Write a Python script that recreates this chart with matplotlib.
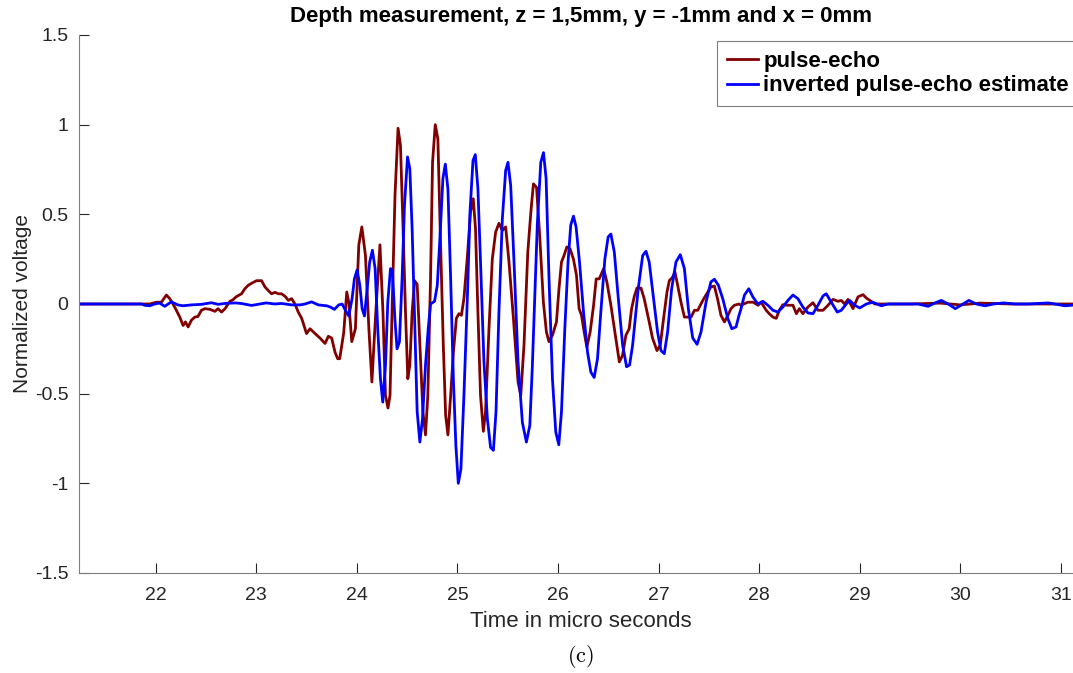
import matplotlib
matplotlib.use("Agg")
import matplotlib.pyplot as plt

title = "Depth measurement, z = 1,5mm, y = -1mm and x = 0mm"
xlabel = "Time in micro seconds"
ylabel = "Normalized voltage"
caption = r"$\mathrm{(c)}$"
legend_labels = ["pulse-echo", "inverted pulse-echo estimate"]
xticks = [22, 23, 24, 25, 26, 27, 28, 29, 30, 31]
yticks = [-1.5, -1, -0.5, 0, 0.5, 1, 1.5]
ytick_labels = ["-1.5", "-1", "-0.5", "0", "0.5", "1", "1.5"]

# pulse-echo (measured)
red_t = [21.24, 21.60, 21.89, 21.94, 22.007, 22.057, 22.107, 22.14, 22.173, 22.206,
         22.24, 22.273, 22.296, 22.323, 22.356, 22.39, 22.42, 22.455, 22.49, 22.54,
         22.59, 22.62, 22.655, 22.69, 22.738, 22.77, 22.80, 22.854, 22.887, 22.92,
         22.953, 23.003, 23.053, 23.087, 23.12, 23.152, 23.186, 23.22, 23.252, 23.286,
         23.32, 23.352, 23.385, 23.418, 23.452, 23.50, 23.535, 23.585, 23.634, 23.684,
         23.717, 23.75, 23.784, 23.81, 23.83, 23.87, 23.90, 23.92, 23.95, 23.986,
         24.02, 24.05, 24.086, 24.12, 24.15, 24.185, 24.23, 24.26, 24.285, 24.31,
         24.33, 24.35, 24.38, 24.41, 24.434, 24.46, 24.484, 24.507, 24.527, 24.55,
         24.574, 24.60, 24.627, 24.657, 24.683, 24.706, 24.733, 24.753, 24.78, 24.806,
         24.833, 24.86, 24.883, 24.906, 24.933, 24.96, 24.99, 25.015, 25.04, 25.065,
         25.10, 25.13, 25.158, 25.18, 25.204, 25.23, 25.258, 25.28, 25.314, 25.347,
         25.38, 25.413, 25.447, 25.48, 25.513, 25.557, 25.603, 25.63, 25.662, 25.70,
         25.73, 25.756, 25.787, 25.82, 25.855, 25.885, 25.91, 25.945, 25.985, 26.01,
         26.035, 26.06, 26.088, 26.12, 26.154, 26.184, 26.21, 26.234, 26.26, 26.287,
         26.32, 26.354, 26.38, 26.41, 26.454, 26.486, 26.526, 26.566, 26.61, 26.642,
         26.675, 26.708, 26.732, 26.758, 26.785, 26.825, 26.857, 26.907, 26.94, 26.984,
         27.017, 27.05, 27.084, 27.107, 27.14, 27.163, 27.19, 27.223, 27.257, 27.323,
         27.357, 27.39, 27.415, 27.45, 27.49, 27.52, 27.555, 27.59, 27.62, 27.655,
         27.69, 27.72, 27.754, 27.80, 27.82, 27.887, 27.94, 27.99, 28.02, 28.07,
         28.10, 28.137, 28.17, 28.20, 28.236, 28.286, 28.336, 28.37, 28.40, 28.435,
         28.485, 28.535, 28.585, 28.635, 28.685, 28.735, 28.784, 28.817, 28.85, 28.884,
         28.933, 28.983, 29.033, 29.066, 29.10, 29.15, 29.23, 29.5, 29.8, 30.0,
         30.2, 30.5, 30.9, 31.25]
red_v = [0, 0, 0, 0.0, 0.01, 0.01, 0.05, 0.03, 0.0, -0.035,
         -0.073, -0.12, -0.10, -0.128, -0.09, -0.073, -0.07, -0.035, -0.026, -0.03,
         -0.041, -0.026, -0.045, -0.026, 0.015, 0.024, 0.04, 0.057, 0.085, 0.104,
         0.115, 0.13, 0.13, 0.095, 0.075, 0.057, 0.065, 0.057, 0.057, 0.043,
         0.02, 0.03, 0.0, -0.045, -0.08, -0.165, -0.138, -0.165, -0.19, -0.22,
         -0.18, -0.19, -0.27, -0.305, -0.305, -0.16, 0.067, 0.01, -0.21, -0.138,
         0.33, 0.43, 0.27, -0.138, -0.435, -0.08, 0.33, -0.045, -0.51, -0.58,
         -0.51, -0.045, 0.61, 0.98, 0.885, 0.42, -0.045, -0.417, -0.34, -0.045,
         0.13, 0.11, -0.23, -0.60, -0.73, -0.51, 0.14, 0.79, 1.0, 0.92,
         0.33, -0.23, -0.62, -0.73, -0.51, -0.27, -0.08, -0.054, -0.063, 0.03,
         0.27, 0.51, 0.587, 0.42, -0.045, -0.51, -0.71, -0.60, -0.138, 0.25,
         0.40, 0.45, 0.41, 0.43, 0.234, -0.08, -0.435, -0.51, -0.23, 0.29,
         0.51, 0.67, 0.65, 0.364, 0.01, -0.156, -0.21, -0.175, -0.10, 0.085,
         0.234, 0.27, 0.318, 0.308, 0.25, 0.16, -0.026, -0.063, -0.156, -0.24,
         -0.156, -0.007, 0.14, 0.14, 0.197, 0.123, -0.007, -0.156, -0.323, -0.286,
         -0.175, -0.138, -0.026, 0.04, 0.089, 0.089, 0.03, -0.10, -0.19, -0.26,
         -0.23, -0.08, 0.067, 0.13, 0.15, 0.178, 0.104, 0.01, -0.073, -0.073,
         -0.035, -0.035, -0.007, 0.03, 0.067, 0.095, 0.10, 0.02, -0.063, -0.10,
         -0.063, -0.026, -0.007, 0.0, -0.007, 0.01, 0.01, -0.007, 0.01, -0.035,
         -0.054, -0.073, -0.08, -0.035, -0.004, -0.007, -0.007, -0.054, -0.026, -0.054,
         -0.017, 0.007, -0.035, -0.035, -0.007, 0.026, 0.015, 0.02, 0.0, 0.026,
         -0.026, 0.04, 0.052, 0.033, 0.02, 0.0, 0.0, 0.0, 0.005, -0.005,
         0.005, 0.0, 0.0, 0.0]

# inverted pulse-echo estimate
blue_t = [21.24, 21.86, 21.89, 21.94, 21.99, 22.04, 22.09, 22.156, 22.22, 22.27,
          22.356, 22.455, 22.555, 22.62, 22.69, 22.79, 22.85, 22.953, 23.036, 23.10,
          23.186, 23.25, 23.352, 23.435, 23.485, 23.55, 23.617, 23.70, 23.737, 23.777,
          23.82, 23.854, 23.886, 23.92, 23.953, 23.976, 24.003, 24.03, 24.053, 24.076,
          24.10, 24.128, 24.155, 24.182, 24.208, 24.235, 24.258, 24.285, 24.308, 24.335,
          24.355, 24.378, 24.40, 24.424, 24.45, 24.474, 24.504, 24.527, 24.55, 24.577,
          24.60, 24.627, 24.653, 24.683, 24.71, 24.733, 24.773, 24.80, 24.826, 24.856,
          24.88, 24.906, 24.933, 24.96, 24.985, 25.009, 25.035, 25.065, 25.10, 25.125,
          25.155, 25.178, 25.204, 25.23, 25.264, 25.298, 25.33, 25.358, 25.384, 25.413,
          25.447, 25.48, 25.503, 25.53, 25.563, 25.603, 25.646, 25.686, 25.72, 25.745,
          25.77, 25.795, 25.829, 25.856, 25.882, 25.911, 25.945, 25.978, 26.008, 26.035,
          26.068, 26.10, 26.127, 26.154, 26.18, 26.214, 26.254, 26.294, 26.327, 26.36,
          26.393, 26.426, 26.466, 26.499, 26.526, 26.56, 26.60, 26.643, 26.682, 26.712,
          26.742, 26.77, 26.798, 26.842, 26.875, 26.907, 26.95, 26.99, 27.024, 27.057,
          27.09, 27.13, 27.173, 27.216, 27.257, 27.296, 27.34, 27.383, 27.422, 27.472,
          27.52, 27.555, 27.595, 27.638, 27.688, 27.728, 27.77, 27.80, 27.82, 27.854,
          27.897, 27.937, 27.987, 28.037, 28.087, 28.137, 28.186, 28.236, 28.286, 28.336,
          28.385, 28.435, 28.485, 28.535, 28.585, 28.635, 28.667, 28.717, 28.777, 28.817,
          28.866, 28.90, 28.95, 29.0, 29.066, 29.13, 29.215, 29.28, 29.414, 29.58,
          29.68, 29.745, 29.81, 29.88, 29.95, 30.01, 30.085, 30.16, 30.245, 30.33,
          30.43, 30.545, 30.68, 30.875, 30.94, 31.04, 31.25]
blue_v = [0, 0, -0.007, -0.01, 0, 0.005, -0.013, 0.012, -0.005, -0.01,
          -0.005, -0.002, 0.007, -0.002, 0.003, 0.006, 0.003, -0.008, 0, 0.006,
          0, 0.003, -0.005, -0.005, 0, 0.012, -0.005, -0.01, -0.017, -0.03,
          -0.005, 0.0, -0.035, -0.067, 0.03, 0.14, 0.19, 0.104, -0.026, -0.067,
          0.067, 0.234, 0.30, 0.197, -0.138, -0.417, -0.547, -0.34, 0.01, 0.197,
          0.18, -0.08, -0.25, -0.21, 0.14, 0.55, 0.82, 0.755, 0.42, -0.138,
          -0.60, -0.77, -0.64, -0.34, -0.138, 0.0, 0.015, 0.104, 0.364, 0.70,
          0.78, 0.64, 0.14, -0.417, -0.79, -1.0, -0.92, -0.51, 0.05, 0.51,
          0.80, 0.833, 0.643, 0.234, -0.323, -0.64, -0.80, -0.816, -0.60, -0.045,
          0.476, 0.745, 0.79, 0.66, 0.234, -0.323, -0.66, -0.77, -0.677, -0.35,
          0.05, 0.45, 0.79, 0.844, 0.70, 0.14, -0.417, -0.714, -0.785, -0.60,
          -0.138, 0.234, 0.44, 0.49, 0.43, 0.234, -0.045, -0.27, -0.38, -0.41,
          -0.305, -0.045, 0.25, 0.374, 0.39, 0.29, 0.03, -0.23, -0.35, -0.34,
          -0.23, -0.07, 0.085, 0.27, 0.294, 0.234, 0.03, -0.156, -0.26, -0.277,
          -0.156, 0.085, 0.234, 0.275, 0.197, -0.026, -0.19, -0.225, -0.156, 0.01,
          0.123, 0.138, 0.104, 0.03, -0.08, -0.138, -0.128, -0.063, -0.026, 0.05,
          0.085, 0.04, 0.0, 0.015, -0.007, -0.035, -0.045, -0.017, 0.02, 0.05,
          0.03, -0.017, -0.05, -0.054, -0.007, 0.045, 0.057, 0.01, -0.045, -0.035,
          0.0, 0.02, -0.007, -0.022, 0.0, 0.01, -0.01, 0.0, 0.0, 0.0,
          -0.013, 0.005, 0.02, 0.0, -0.026, -0.006, 0.02, 0.0, -0.01, 0.0,
          0.006, 0.0, 0.0, 0.006, 0.0, -0.01, 0.0]

plt.rcParams['font.family'] = ['Liberation Sans', 'DejaVu Sans']
plt.rcParams['mathtext.fontset'] = 'cm'

fig = plt.figure(figsize=(10.73, 6.73), dpi=100)
ax = fig.add_axes([0.074, 0.1486, 0.9344, 0.7994])

red_line, = ax.plot(red_t, red_v, color='#800000', lw=2)
blue_line, = ax.plot(blue_t, blue_v, color='#0000ff', lw=2)

ax.set_xlim(21.242, 31.21)
ax.set_ylim(-1.5, 1.5)
ax.set_xticks(xticks)
ax.set_xticklabels([str(x) for x in xticks])
ax.set_yticks(yticks)
ax.set_yticklabels(ytick_labels)
for s in ['top', 'right']:
    ax.spines[s].set_visible(False)
for s in ['left', 'bottom']:
    ax.spines[s].set_color('#7f7f7f')
    ax.spines[s].set_linewidth(0.8)
ax.tick_params(direction='in', length=7, width=0.8, color='#262626',
               labelsize=14, labelcolor='#262626')
ax.tick_params(axis='x', pad=10)
ax.tick_params(axis='y', pad=8)

ax.set_title(title, fontsize=16, fontweight='bold', pad=9)
ax.set_xlabel(xlabel, fontsize=16, color='#262626', labelpad=5)
ax.set_ylabel(ylabel, fontsize=15, color='#262626', labelpad=2)

fig.text(0.5406, 0.024, caption, fontsize=16, ha='center', va='center')

leg = ax.legend([red_line, blue_line], legend_labels, loc='upper right',
                bbox_to_anchor=(1079 / 1073, 1 - 41 / 673), bbox_transform=fig.transFigure,
                fancybox=False, edgecolor='#7f7f7f', framealpha=1,
                prop={'weight': 'bold', 'size': 16}, handlelength=1.4,
                handletextpad=0.25, borderpad=0.45, labelspacing=0.15,
                borderaxespad=0)
leg.get_frame().set_linewidth(0.8)

fig.savefig('out.png', dpi=100)
